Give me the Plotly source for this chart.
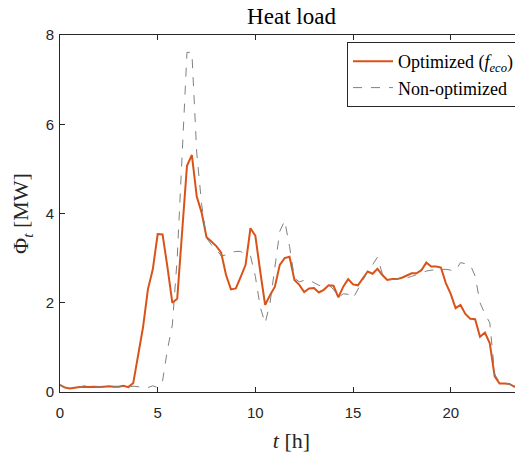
import plotly.graph_objects as go

t_hours = [i * 0.25 for i in range(96)]

optimized = [
    0.16, 0.10, 0.08, 0.10, 0.11, 0.12, 0.11, 0.12,
    0.11, 0.12, 0.13, 0.12, 0.12, 0.14, 0.11, 0.20,
    0.80, 1.45, 2.30, 2.75, 3.54, 3.53, 2.80, 2.00,
    2.09, 3.65, 5.07, 5.31, 4.38, 4.02, 3.47, 3.37,
    3.27, 3.12, 2.62, 2.30, 2.32, 2.58, 2.85, 3.67,
    3.50, 2.70, 1.95, 2.17, 2.36, 2.85, 3.00, 3.03,
    2.51, 2.40, 2.24, 2.32, 2.33, 2.23, 2.29, 2.39,
    2.38, 2.12, 2.36, 2.53, 2.41, 2.39, 2.56, 2.70,
    2.65, 2.76, 2.62, 2.51, 2.53, 2.53, 2.56, 2.61,
    2.66, 2.66, 2.73, 2.90, 2.81, 2.81, 2.79, 2.44,
    2.20, 1.88, 1.95, 1.75, 1.64, 1.63, 1.24, 1.33,
    1.09, 0.35, 0.19, 0.19, 0.18, 0.12, 0.16, 0.16,
]

non_optimized = [
    0.16, 0.10, 0.09, 0.10, 0.10, 0.14, 0.10, 0.11,
    0.11, 0.11, 0.12, 0.11, 0.12, 0.13, 0.11, 0.13,
    0.12, 0.08, 0.10, 0.14, 0.10, 0.25, 0.95, 1.50,
    3.00, 5.30, 7.61, 7.61, 5.36, 4.20, 3.45, 3.30,
    3.20, 3.05, 3.07, 3.13, 3.15, 3.15, 3.07, 3.05,
    2.59, 1.90, 1.54, 1.99, 2.75, 3.60, 3.84, 3.26,
    2.55, 2.47, 2.50, 2.51, 2.45, 2.39, 2.38, 2.40,
    2.30, 2.12, 2.20, 2.19, 2.10, 2.29, 2.50, 2.70,
    2.85, 3.02, 2.65, 2.52, 2.52, 2.53, 2.54, 2.56,
    2.59, 2.63, 2.68, 2.71, 2.73, 2.74, 2.74, 2.75,
    2.73, 2.72, 2.90, 2.88, 2.85, 2.60, 2.00, 1.75,
    1.55, 0.40, 0.22, 0.19, 0.18, 0.12, 0.16, 0.16,
]

x_ticks = [0, 5, 10, 15, 20]
y_ticks = [0, 2, 4, 6, 8]

AX = "#262626"
SERIF = "Liberation Serif, DejaVu Serif, serif"
SANS = "Liberation Sans, Arial, sans-serif"

# page has an 8px body margin: figure occupies page x 8..523, y 8..453
W, H = 515, 445

fig = go.Figure()
fig.add_trace(go.Scatter(
    x=t_hours, y=optimized, mode="lines",
    name="Optimized (<i>f</i><sub><i>eco</i></sub>)",
    line=dict(color="#D95319", width=2),
))
fig.add_trace(go.Scatter(
    x=t_hours, y=non_optimized, mode="lines",
    name="Non-optimized",
    line=dict(color="#808080", width=1, dash="dash"),
))

axis_common = dict(
    showline=True, linecolor=AX, linewidth=1, mirror="ticks",
    ticks="inside", ticklen=5, tickcolor=AX, tickwidth=1,
    showgrid=False, zeroline=False, automargin=False,
    tickfont=dict(family=SANS, size=15, color=AX),
)

fig.update_layout(
    width=W, height=H,
    margin=dict(l=52, r=0, t=27, b=61, autoexpand=False),
    paper_bgcolor="white", plot_bgcolor="white",
    title=dict(text="Heat load", x=(52 + W) / 2 / W, xanchor="center",
               y=1, yanchor="top", pad=dict(t=0, b=0),
               font=dict(family=SERIF, size=23, color="black")),
    xaxis=dict(range=[0, 23.7], tickvals=x_ticks, ticklabelstandoff=7,
               title=dict(text="<i>t</i> [h]", standoff=12,
                          font=dict(family=SERIF, size=22, color=AX)),
               **axis_common),
    yaxis=dict(range=[0, 8], tickvals=y_ticks, ticklabelstandoff=2,
               title=dict(text="Φ<sub><i>t</i></sub> [MW]", standoff=10,
                          font=dict(family=SERIF, size=22, color=AX)),
               **axis_common),
    legend=dict(x=(511 - 52) / (W - 52), xanchor="right", y=(384 - 34) / 357, yanchor="top",
                bordercolor=AX, borderwidth=1, bgcolor="white",
                font=dict(family=SERIF, size=18, color="black"),
                tracegroupgap=0, itemwidth=40),
    showlegend=True,
)

fig.write_html("out.html")
